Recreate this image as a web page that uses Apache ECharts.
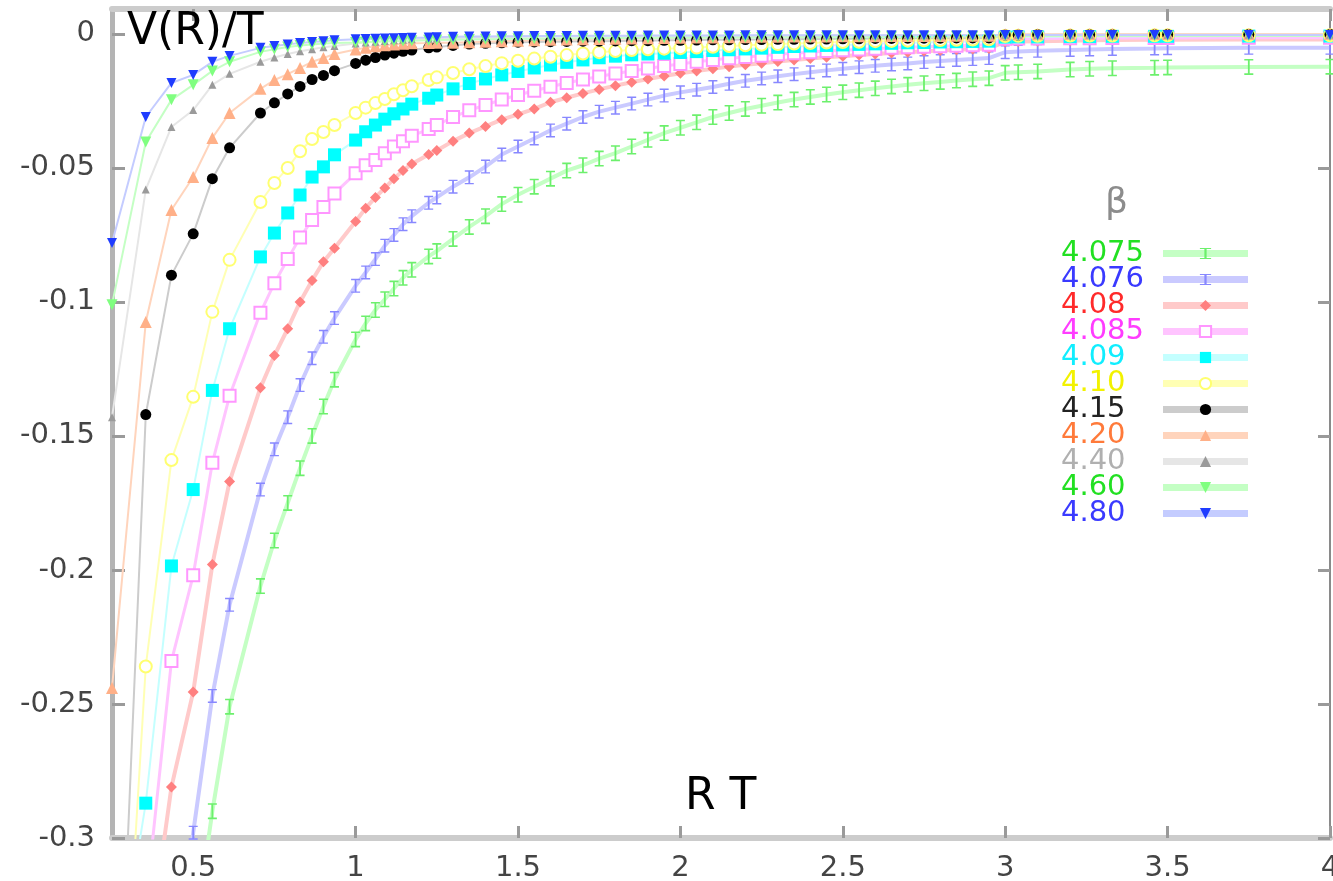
<!DOCTYPE html>
<html>
<head>
<meta charset="utf-8">
<script src="https://cdn.jsdelivr.net/npm/echarts@6/dist/echarts.min.js"></script>
<style>
  html, body { margin: 0; padding: 0; background: #fff; }
  #main { width: 1333px; height: 881px; }
</style>
</head>
<body>
<div id="main"></div>
<script>
// R T values (shared by all beta runs)
var rt = [0.25, 0.354, 0.433, 0.5, 0.559, 0.612, 0.707, 0.75, 0.791, 0.829,
  0.866, 0.901, 0.935, 1.0, 1.031, 1.061, 1.09, 1.118, 1.146, 1.173,
  1.225, 1.25, 1.3, 1.35, 1.4, 1.45, 1.5, 1.55, 1.6, 1.65,
  1.7, 1.75, 1.8, 1.85, 1.9, 1.95, 2.0, 2.05, 2.1, 2.15,
  2.2, 2.25, 2.3, 2.35, 2.4, 2.45, 2.5, 2.55, 2.6, 2.65,
  2.7, 2.75, 2.8, 2.85, 2.9, 2.95, 3.0, 3.04, 3.1, 3.2,
  3.26, 3.33, 3.46, 3.5, 3.75, 4.0];

var betas = ['4.075', '4.076', '4.08', '4.085', '4.09', '4.10', '4.15', '4.20', '4.40', '4.60', '4.80'];

// V(R)/T per beta
var v4075 = [null, null, null, -0.34, -0.290, -0.251, -0.206, -0.189, -0.175, -0.162,
  -0.150, -0.139, -0.129, -0.114, -0.108, -0.103, -0.099, -0.095, -0.091, -0.088,
  -0.083, -0.081, -0.0765, -0.072, -0.068, -0.0635, -0.060, -0.057, -0.054, -0.051,
  -0.049, -0.0465, -0.0445, -0.042, -0.0395, -0.037, -0.035, -0.033, -0.031, -0.0295,
  -0.028, -0.0268, -0.0256, -0.0245, -0.0235, -0.0226, -0.0218, -0.021, -0.0203, -0.0196,
  -0.019, -0.0184, -0.0179, -0.0174, -0.0169, -0.0165, -0.0145, -0.0143, -0.014, -0.0133,
  -0.013, -0.0128, -0.0126, -0.0125, -0.0123, -0.0122];
var v4076 = [null, null, -0.36, -0.298, -0.247, -0.213, -0.170, -0.155, -0.143, -0.131,
  -0.121, -0.113, -0.106, -0.094, -0.089, -0.084, -0.079, -0.075, -0.071, -0.068,
  -0.063, -0.061, -0.057, -0.0535, -0.0495, -0.045, -0.042, -0.039, -0.036, -0.0335,
  -0.031, -0.029, -0.0275, -0.026, -0.0245, -0.023, -0.0218, -0.0208, -0.0198, -0.0186,
  -0.0175, -0.0166, -0.0158, -0.015, -0.0143, -0.0136, -0.013, -0.0124, -0.0119, -0.0114,
  -0.011, -0.0105, -0.0101, -0.0097, -0.0094, -0.009, -0.0068, -0.0066, -0.0063, -0.006,
  -0.0058, -0.0056, -0.0054, -0.0053, -0.0052, -0.0052];
var v408 = [null, -0.35, -0.281, -0.2455, -0.198, -0.167, -0.132, -0.120, -0.110, -0.100,
  -0.092, -0.085, -0.080, -0.070, -0.065, -0.061, -0.0575, -0.054, -0.051, -0.0485,
  -0.045, -0.0435, -0.040, -0.037, -0.0345, -0.032, -0.030, -0.028, -0.0255, -0.0238,
  -0.0222, -0.0207, -0.0193, -0.018, -0.0168, -0.0157, -0.0147, -0.0138, -0.013, -0.0122,
  -0.0115, -0.0109, -0.0103, -0.0097, -0.0092, -0.0087, -0.0083, -0.0079, -0.0075, -0.0071,
  -0.0068, -0.0065, -0.0062, -0.0059, -0.0056, -0.0054, -0.003, -0.0028, -0.0027, -0.0025,
  -0.0024, -0.0023, -0.0022, -0.0022, -0.0021, -0.0021];
var v4085 = [null, -0.325, -0.234, -0.202, -0.160, -0.135, -0.104, -0.093, -0.084, -0.076,
  -0.0694, -0.0646, -0.0595, -0.052, -0.049, -0.047, -0.0445, -0.042, -0.040, -0.038,
  -0.0355, -0.034, -0.031, -0.0285, -0.0265, -0.0245, -0.0228, -0.0212, -0.0197, -0.0183,
  -0.017, -0.0159, -0.0148, -0.0138, -0.0129, -0.012, -0.0112, -0.0104, -0.0097, -0.0091,
  -0.0086, -0.0081, -0.0076, -0.0072, -0.0068, -0.0064, -0.0061, -0.0058, -0.0055, -0.0052,
  -0.005, -0.0048, -0.0046, -0.0044, -0.0042, -0.004, -0.0018, -0.0017, -0.0017, -0.0016,
  -0.0016, -0.0015, -0.0015, -0.0015, -0.0014, -0.0014];
var v409 = [-0.365, -0.287, -0.1985, -0.170, -0.133, -0.110, -0.0832, -0.0743, -0.0668, -0.0601,
  -0.0534, -0.0496, -0.0451, -0.0396, -0.0365, -0.034, -0.0318, -0.0298, -0.028, -0.0262,
  -0.024, -0.0228, -0.0205, -0.0185, -0.0168, -0.0153, -0.014, -0.0127, -0.0116, -0.0106,
  -0.0097, -0.0089, -0.0083, -0.0078, -0.0075, -0.0072, -0.0069, -0.0066, -0.0062, -0.0059,
  -0.0056, -0.0053, -0.005, -0.0047, -0.0045, -0.0043, -0.0041, -0.0039, -0.0037, -0.0035,
  -0.0033, -0.0032, -0.003, -0.0029, -0.0028, -0.0027, -0.0012, -0.0011, -0.0011, -0.001,
  -0.001, -0.0009, -0.0009, -0.0009, -0.0008, -0.0008];
var v410 = [-0.445, -0.236, -0.159, -0.1354, -0.1037, -0.0843, -0.0627, -0.0556, -0.050, -0.0438,
  -0.0392, -0.0366, -0.034, -0.0295, -0.0275, -0.0258, -0.0243, -0.0225, -0.021, -0.0195,
  -0.0172, -0.0162, -0.0146, -0.0132, -0.012, -0.0109, -0.010, -0.0092, -0.0085, -0.0079,
  -0.0073, -0.0068, -0.0064, -0.006, -0.0057, -0.0055, -0.0053, -0.0051, -0.0048, -0.0045,
  -0.0042, -0.004, -0.0038, -0.0036, -0.0034, -0.0032, -0.003, -0.0029, -0.0027, -0.0026,
  -0.0025, -0.0024, -0.0023, -0.0022, -0.0021, -0.002, -0.0008, -0.0007, -0.0007, -0.0006,
  -0.0006, -0.0006, -0.0005, -0.0005, -0.0005, -0.0005];
var v415 = [-0.44, -0.142, -0.090, -0.0746, -0.054, -0.0425, -0.0295, -0.0257, -0.0224, -0.0196,
  -0.017, -0.0155, -0.0137, -0.011, -0.0098, -0.0088, -0.0079, -0.0072, -0.0065, -0.006,
  -0.0052, -0.0049, -0.0043, -0.0038, -0.0035, -0.0033, -0.0031, -0.003, -0.0029, -0.0028,
  -0.0027, -0.0027, -0.0026, -0.0025, -0.0025, -0.0024, -0.0024, -0.0023, -0.0022, -0.0022,
  -0.0021, -0.0021, -0.002, -0.002, -0.0019, -0.0019, -0.0018, -0.0018, -0.0017, -0.0017,
  -0.0016, -0.0016, -0.0016, -0.0015, -0.0015, -0.0015, -0.0004, -0.0004, -0.0003, -0.0003,
  -0.0003, -0.0003, -0.0003, -0.0002, -0.0002, -0.0002];
var v420 = [-0.244, -0.1075, -0.0657, -0.0534, -0.0388, -0.0295, -0.0205, -0.0172, -0.015, -0.0127,
  -0.0104, -0.009, -0.0075, -0.0058, -0.0052, -0.0046, -0.0042, -0.0039, -0.0037, -0.0035,
  -0.0034, -0.0033, -0.0033, -0.0031, -0.0029, -0.0027, -0.0025, -0.0024, -0.0022, -0.0021,
  -0.002, -0.0019, -0.0018, -0.0017, -0.0016, -0.0015, -0.0014, -0.0013, -0.0013, -0.0012,
  -0.0012, -0.0011, -0.0011, -0.001, -0.001, -0.001, -0.0009, -0.0009, -0.0009, -0.0008,
  -0.0008, -0.0008, -0.0008, -0.0007, -0.0007, -0.0007, -0.0001, -0.0001, -0.0001, 0,
  0, 0, 0, 0, 0, 0];
var v440 = [-0.143, -0.058, -0.0347, -0.0284, -0.019, -0.0149, -0.0104, -0.0088, -0.0075, -0.0065,
  -0.0057, -0.005, -0.0045, -0.0036, -0.0032, -0.0029, -0.0026, -0.0024, -0.0022, -0.002,
  -0.0018, -0.0017, -0.0015, -0.0014, -0.0013, -0.0012, -0.0011, -0.0011, -0.001, -0.001,
  -0.001, -0.0009, -0.0009, -0.0009, -0.0008, -0.0008, -0.0008, -0.0008, -0.0007, -0.0007,
  -0.0007, -0.0007, -0.0007, -0.0006, -0.0006, -0.0006, -0.0006, -0.0006, -0.0006, -0.0005,
  -0.0005, -0.0005, -0.0005, -0.0005, -0.0005, -0.0005, -0.0003, -0.0003, -0.0003, -0.0003,
  -0.0003, -0.0003, -0.0003, -0.0003, -0.0003, -0.0003];
var v460 = [-0.101, -0.0403, -0.0246, -0.019, -0.0138, -0.0104, -0.0067, -0.0057, -0.0049, -0.0043,
  -0.0039, -0.0036, -0.0034, -0.0032, -0.003, -0.0029, -0.0028, -0.0027, -0.0026, -0.0025,
  -0.0024, -0.0023, -0.0022, -0.0021, -0.002, -0.0019, -0.0018, -0.0018, -0.0017, -0.0017,
  -0.0016, -0.0016, -0.0015, -0.0015, -0.0015, -0.0014, -0.0014, -0.0014, -0.0013, -0.0013,
  -0.0013, -0.0013, -0.0012, -0.0012, -0.0012, -0.0012, -0.0011, -0.0011, -0.0011, -0.0011,
  -0.0011, -0.001, -0.001, -0.001, -0.001, -0.001, -0.0008, -0.0008, -0.0008, -0.0008,
  -0.0008, -0.0008, -0.0008, -0.0008, -0.0008, -0.0008];
var v480 = [-0.078, -0.031, -0.0183, -0.0153, -0.0104, -0.0082, -0.0052, -0.0045, -0.0039, -0.0034,
  -0.003, -0.0027, -0.0024, -0.002, -0.0019, -0.0018, -0.0017, -0.0016, -0.0015, -0.0014,
  -0.0013, -0.0012, -0.0011, -0.001, -0.001, -0.0009, -0.0009, -0.0008, -0.0008, -0.0008,
  -0.0007, -0.0007, -0.0007, -0.0007, -0.0006, -0.0006, -0.0006, -0.0006, -0.0006, -0.0006,
  -0.0005, -0.0005, -0.0005, -0.0005, -0.0005, -0.0005, -0.0005, -0.0005, -0.0005, -0.0005,
  -0.0005, -0.0005, -0.0005, -0.0005, -0.0005, -0.0005, -0.0004, -0.0004, -0.0004, -0.0004,
  -0.0004, -0.0004, -0.0004, -0.0004, -0.0004, -0.0004];

var values = [v4075, v4076, v408, v4085, v409, v410, v415, v420, v440, v460, v480];

var xTicks = [0.5, 1, 1.5, 2, 2.5, 3, 3.5, 4];
var yTicks = [0, -0.05, -0.1, -0.15, -0.2, -0.25, -0.3];

// error bar shaped marker
var ibeam = 'path://M0,0H10V2H6V18H10V20H0V18H4V2H0Z';

// look of each run: text colour, line colour, marker
var looks = [
  { text: '#22e022', line: '#c4ffc4', lw: 4, sym: ibeam, size: [9, 16], fill: '#6cf06c' },
  { text: '#3a3aff', line: '#cacaff', lw: 4, sym: ibeam, size: [9, 14], fill: '#8888ff' },
  { text: '#ff2a2a', line: '#ffcaca', lw: 4, sym: 'diamond', size: 11, fill: '#ff8080' },
  { text: '#ff3cff', line: '#ffc4ff', lw: 3, sym: 'emptyRect', size: 12, fill: '#ff96ff' },
  { text: '#10eeff', line: '#c4ffff', lw: 2, sym: 'rect', size: 13, fill: '#00ffff' },
  { text: '#f2f200', line: '#ffffb4', lw: 2, sym: 'emptyCircle', size: 12, fill: '#ffff70' },
  { text: '#222222', line: '#cccccc', lw: 2, sym: 'circle', size: 11, fill: '#000000' },
  { text: '#ff7a3a', line: '#ffd4bc', lw: 2, sym: 'triangle', size: 12, fill: '#ffb088' },
  { text: '#b0b0b0', line: '#e6e6e6', lw: 2, sym: 'triangle', size: 8, fill: '#9a9a9a' },
  { text: '#22e022', line: '#c4ffc4', lw: 2, sym: 'triangle', size: 11, fill: '#80ff80', rot: 180 },
  { text: '#3a3aff', line: '#c4ccff', lw: 2, sym: 'triangle', size: 10, fill: '#1f3cff', rot: 180 }
];

var chartDom = document.getElementById('main');
var myChart = echarts.init(chartDom);
var option;

var font = 'DejaVu Sans';

var series = betas.map(function (b, i) {
  var lk = looks[i];
  var pts = [];
  values[i].forEach(function (v, j) {
    if (v !== null) pts.push([rt[j], v]);
  });
  var empty = lk.sym.indexOf('empty') === 0;
  return {
    name: b,
    type: 'line',
    data: pts,
    xAxisIndex: 0,
    yAxisIndex: 0,
    symbol: lk.sym,
    symbolSize: lk.size,
    symbolRotate: lk.rot || 0,
    showAllSymbol: true,
    clip: true,
    animation: false,
    lineStyle: { color: lk.line, width: lk.lw },
    itemStyle: empty
      ? { color: lk.fill, borderColor: lk.fill, borderWidth: 3 }
      : { color: lk.fill, borderWidth: 0 },
    emphasis: { disabled: true }
  };
});

// legend labels: left aligned in a fixed box, one colour each
var legendRich = {};
looks.forEach(function (lk, i) {
  legendRich['t' + i] = {
    width: 97, align: 'left', color: lk.text,
    fontFamily: font, fontSize: 29, lineHeight: 26
  };
});

var tickLine = { color: '#9a9a9a', width: 3 };

option = {
  backgroundColor: '#ffffff',
  animation: false,
  grid: { left: 112, right: 3, top: 9, bottom: 43, outerBoundsMode: 'none' },
  xAxis: [
    {
      type: 'value', min: 0.25, max: 4, position: 'bottom',
      axisLine: { onZero: false, lineStyle: { color: '#cccccc', width: 6 } },
      axisTick: { inside: true, length: 12, customValues: xTicks, lineStyle: tickLine },
      axisLabel: { customValues: xTicks, margin: 16, fontFamily: font, fontSize: 29, color: '#444' },
      splitLine: { show: false }
    },
    {
      type: 'value', min: 0.25, max: 4, position: 'top',
      axisLine: { onZero: false, lineStyle: { color: '#cccccc', width: 6 } },
      axisTick: { inside: true, length: 12, customValues: xTicks, lineStyle: tickLine },
      axisLabel: { show: false },
      splitLine: { show: false }
    }
  ],
  yAxis: [
    {
      type: 'value', min: -0.3, max: 0.0093, position: 'left',
      axisLine: { show: true, onZero: false, lineStyle: { color: '#b4b4b4', width: 5 } },
      axisTick: { show: true, inside: true, length: 13, customValues: yTicks, lineStyle: tickLine },
      axisLabel: {
        customValues: yTicks, margin: 17, fontFamily: font, fontSize: 29, color: '#444',
        formatter: function (v) { return String(v); }
      },
      splitLine: { show: false }
    },
    {
      type: 'value', min: -0.3, max: 0.0093, position: 'right',
      axisLine: { show: true, onZero: false, lineStyle: { color: '#8a8a8a', width: 2 } },
      axisTick: { show: true, inside: true, length: 12, customValues: yTicks, lineStyle: tickLine },
      axisLabel: { show: false },
      splitLine: { show: false }
    }
  ],
  legend: {
    orient: 'vertical',
    left: 1056,
    top: 234,
    align: 'right',
    itemWidth: 85,
    itemHeight: 14,
    itemGap: -3,
    selectedMode: false,
    lineStyle: { width: 7 },
    formatter: function (name) {
      return '{t' + betas.indexOf(name) + '|' + name + '}';
    },
    textStyle: { fontFamily: font, fontSize: 29, lineHeight: 26, padding: 0, rich: legendRich },
    data: betas.map(function (b, i) {
      return { name: b, textStyle: { color: looks[i].text } };
    })
  },
  graphic: [
    { type: 'text', left: 127, top: 11, z: 100, style: { text: 'V(R)/T', fontFamily: font, fontSize: 44, fill: '#000' } },
    { type: 'text', left: 685, top: 776, z: 100, style: { text: 'R T', fontFamily: font, fontSize: 44, fill: '#000' } },
    { type: 'text', left: 1105, top: 186, z: 100, style: { text: 'β', fontFamily: font, fontSize: 36, fill: '#8c8c8c' } }
  ],
  series: series
};

option && myChart.setOption(option);
</script>
</body>
</html>
